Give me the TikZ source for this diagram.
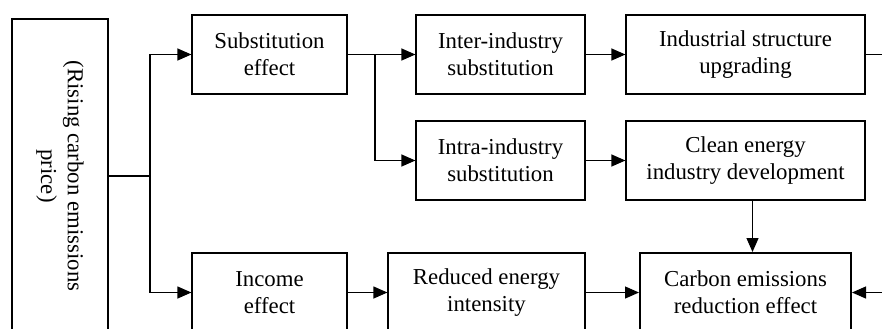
\documentclass[tikz,border=0pt]{standalone}
\usepackage{fontspec}
\setmainfont{Liberation Serif}
\usetikzlibrary{arrows.meta,calc}

\tikzset{
  effbox/.style={draw, line width=0.6pt, align=center, inner sep=0pt,
    minimum height=39.5pt, font=\fontsize{11.4}{13.4}\selectfont},
  link/.style={line width=0.6pt, -{Triangle[length=7pt,width=6pt]}},
  plain/.style={line width=0.6pt}
}

\begin{document}
\begin{tikzpicture}[x=0.5pt, y=-0.5pt]
  \useasboundingbox (0,0) rectangle (882,328);

  % cause
  \node[draw, line width=0.6pt, rotate=-90, align=center, inner sep=0pt,
        minimum width=157pt, minimum height=48pt,
        font=\fontsize{11.4}{13.4}\selectfont] (price) at (60,176)
        {(Rising carbon emissions\\price)};

  % first level
  \node[effbox, minimum width=77.5pt] (subst) at (269.5,54.5) {Substitution\\effect};
  \node[effbox, minimum width=77.5pt] (income) at (269.5,292.5) {Income\\effect};

  % second level
  \node[effbox, minimum width=84.5pt] (inter) at (500.5,54.5) {Inter-industry\\substitution};
  \node[effbox, minimum width=84.5pt] (intra) at (500.5,160.5) {Intra-industry\\substitution};
  \node[effbox, minimum width=98.5pt] (energy) at (486.5,292.5) {Reduced energy\\intensity};

  % third level
  \node[effbox, minimum width=119.5pt] (upgrade) at (745.5,54.5) {Industrial structure\\upgrading};
  \node[effbox, minimum width=119.5pt] (clean) at (745.5,160.5) {Clean energy\\industry development};
  \node[effbox, line width=1pt, minimum width=105.5pt] (carbon) at (745.5,292.5) {Carbon emissions\\reduction effect};

  % branch points
  \coordinate (fork1) at (150,176);
  \coordinate (fork2) at (375,54.5);
  \coordinate (back) at (897,54.5);

  \draw[plain] (price.north) -- (fork1);
  \draw[link] (fork1) |- (subst.west);
  \draw[link] (fork1) |- (income.west);

  \draw[link] (subst.east) -- (inter.west);
  \draw[link] (fork2) |- (intra.west);
  \draw[link] (inter.east) -- (upgrade.west);
  \draw[link] (intra.east) -- (clean.west);
  \draw[link] (income.east) -- (energy.west);
  \draw[link] (energy.east) -- (carbon.west);
  \draw[link] ([xshift=3.5pt]clean.south) -- ([xshift=3.5pt]carbon.north);

  \draw[plain] (upgrade.east) -- (back);
  \draw[link] (back) |- (carbon.east);
\end{tikzpicture}
\end{document}
